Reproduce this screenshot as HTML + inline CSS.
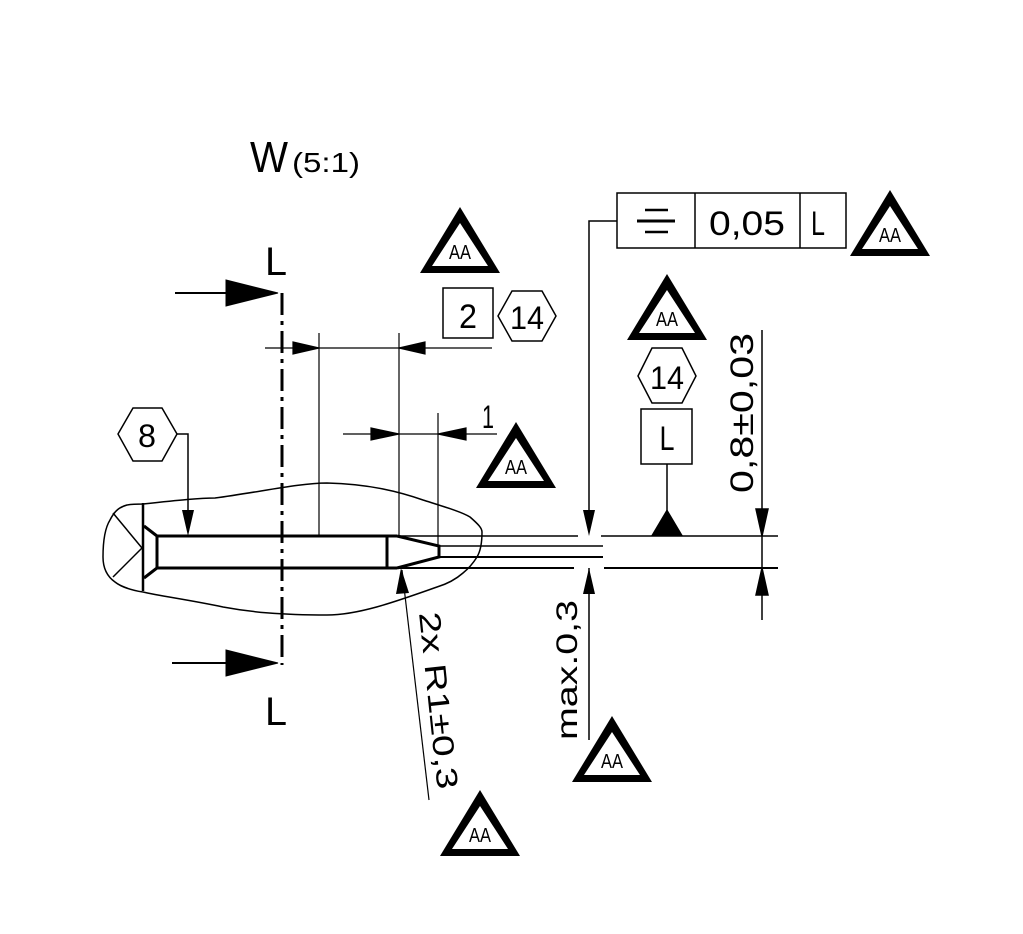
<!DOCTYPE html>
<html><head><meta charset="utf-8"><style>
html,body{margin:0;padding:0;background:#fff;}
svg{display:block}
text{font-family:"Liberation Sans",sans-serif;fill:#000}
</style></head><body>
<svg width="1023" height="934" viewBox="0 0 1023 934" xmlns="http://www.w3.org/2000/svg">
<defs>
<g id="aa-tri">
<polygon points="0,-66 -40,0 40,0" fill="#000"/>
<polygon points="0,-50 -28,-7 28,-7" fill="#fff"/>
<text x="0" y="-14" font-size="20" text-anchor="middle" textLength="22" lengthAdjust="spacingAndGlyphs">AA</text>
</g>
</defs>

<text x="250" y="172" font-size="44" textLength="38" lengthAdjust="spacingAndGlyphs">W</text>
<text x="292" y="172" font-size="28" textLength="68" lengthAdjust="spacingAndGlyphs">(5:1)</text>

<g stroke="#000">
<line x1="282" y1="293" x2="282" y2="665" stroke-width="3" stroke-dasharray="22,6,4,6"/>
<line x1="175" y1="293" x2="228" y2="293" stroke-width="2"/>
<polygon points="226,280 278,293 226,306" fill="#000"/>
<line x1="172" y1="663" x2="228" y2="663" stroke-width="2"/>
<polygon points="226,650 278,663 226,676" fill="#000"/>
</g>
<text x="265" y="275" font-size="40" textLength="22" lengthAdjust="spacingAndGlyphs">L</text>
<text x="265" y="725" font-size="40" textLength="22" lengthAdjust="spacingAndGlyphs">L</text>

<path fill="none" stroke="#000" stroke-width="1.5"
 d="M143,504 C180,500 200,498 215,498 C260,492 300,483 327,483 C370,484 400,492 423,500 C445,507 462,512 470,517 C478,524 482,528 482,532 C482,545 480,552 477,557 C472,565 468,569 463,573 C455,580 447,584 437,587 C400,600 360,615 327,615 C280,615 250,612 223,607 C190,600 160,596 143,592 C130,590 120,586 115,582 C105,575 103,565 103,557 C103,540 105,528 110,520 C115,510 120,507 127,505 C133,504 138,504 143,504 Z"/>

<g stroke="#000" fill="none">
<line x1="143" y1="503" x2="143" y2="591" stroke-width="2.5"/>
<line x1="113" y1="513" x2="142" y2="548" stroke-width="1.5"/>
<line x1="113" y1="577" x2="142" y2="548" stroke-width="1.5"/>
<polyline points="144,526 157,536 157,568 144,578" stroke-width="3"/>
<line x1="157" y1="536" x2="397" y2="536" stroke-width="3"/>
<line x1="157" y1="568" x2="397" y2="568" stroke-width="3"/>
<line x1="387" y1="536" x2="387" y2="568" stroke-width="3"/>
<polyline points="397,536 439,546 439,557 397,568" stroke-width="3"/>
<line x1="397" y1="536" x2="578" y2="536" stroke-width="1.5"/>
<line x1="397" y1="568" x2="574" y2="568" stroke-width="2"/>
<line x1="439" y1="546" x2="603" y2="546" stroke-width="1.5"/>
<line x1="439" y1="557" x2="603" y2="557" stroke-width="2"/>
<line x1="601" y1="536" x2="778" y2="536" stroke-width="1.5"/>
<line x1="604" y1="568" x2="778" y2="568" stroke-width="2"/>
</g>

<g stroke="#000" stroke-width="1.2">
<line x1="319" y1="333" x2="319" y2="536"/>
<line x1="399" y1="333" x2="399" y2="536"/>
<line x1="265" y1="348" x2="492" y2="348"/>
<polygon points="293,342 319,348 293,354" fill="#000"/>
<polygon points="425,342 399,348 425,354" fill="#000"/>
</g>
<rect x="443" y="288" width="50" height="50" fill="none" stroke="#000" stroke-width="1.5"/>
<text x="468" y="328" font-size="34" text-anchor="middle" textLength="18" lengthAdjust="spacingAndGlyphs">2</text>
<polygon points="498,316 512,291 542,291 556,316 542,341 512,341" fill="none" stroke="#000" stroke-width="1.5"/>
<text x="527" y="329" font-size="32" text-anchor="middle" textLength="34" lengthAdjust="spacingAndGlyphs">14</text>

<g stroke="#000" stroke-width="1.2">
<line x1="438" y1="413" x2="438" y2="546"/>
<line x1="343" y1="434" x2="497" y2="434"/>
<polygon points="371,428 399,434 371,440" fill="#000"/>
<polygon points="466,428 438,434 466,440" fill="#000"/>
</g>
<text x="488" y="428" font-size="32" text-anchor="middle" textLength="12" lengthAdjust="spacingAndGlyphs">1</text>

<polygon points="118,434 133,408 162,408 177,434 162,461 133,461" fill="none" stroke="#000" stroke-width="1.5"/>
<text x="147" y="447" font-size="32" text-anchor="middle" textLength="18" lengthAdjust="spacingAndGlyphs">8</text>
<polyline points="177,434 188,434 188,514" fill="none" stroke="#000" stroke-width="1.5"/>
<polygon points="182,510 188,536 194,510" fill="#000"/>

<line x1="429" y1="800" x2="402" y2="570" stroke="#000" stroke-width="1.2"/>
<polygon points="396,594 401,568 409,593" fill="#000"/>
<text transform="translate(419,613) rotate(84)" font-size="30" textLength="178" lengthAdjust="spacingAndGlyphs">2x R1±0,3</text>

<g stroke="#000" stroke-width="1.5" fill="none">
<rect x="617" y="193" width="229" height="55"/>
<line x1="695" y1="193" x2="695" y2="248"/>
<line x1="800" y1="193" x2="800" y2="248"/>
<line x1="637" y1="221" x2="675" y2="221" stroke-width="3"/>
<line x1="645" y1="210" x2="668" y2="210" stroke-width="2.5"/>
<line x1="645" y1="232" x2="668" y2="232" stroke-width="2.5"/>
</g>
<text x="747" y="235" font-size="34" text-anchor="middle" textLength="76" lengthAdjust="spacingAndGlyphs">0,05</text>
<text x="818" y="235" font-size="34" text-anchor="middle" textLength="14" lengthAdjust="spacingAndGlyphs">L</text>
<polyline points="617,221 589,221 589,520" fill="none" stroke="#000" stroke-width="1.5"/>
<polygon points="583,510 589,536 595,510" fill="#000"/>
<line x1="589" y1="568" x2="589" y2="740" stroke="#000" stroke-width="1.5"/>
<polygon points="583,594 589,568 595,594" fill="#000"/>
<text transform="translate(577,740) rotate(-90)" font-size="30" textLength="140" lengthAdjust="spacingAndGlyphs">max.0,3</text>

<polygon points="638,376 652,348 682,348 696,376 682,403 652,403" fill="none" stroke="#000" stroke-width="1.5"/>
<text x="667" y="389" font-size="32" text-anchor="middle" textLength="34" lengthAdjust="spacingAndGlyphs">14</text>
<rect x="641" y="409" width="51" height="55" fill="none" stroke="#000" stroke-width="1.5"/>
<text x="667" y="450" font-size="34" text-anchor="middle" textLength="15" lengthAdjust="spacingAndGlyphs">L</text>
<line x1="667" y1="464" x2="667" y2="512" stroke="#000" stroke-width="1.5"/>
<polygon points="651,536 667,509 683,536" fill="#000"/>

<g stroke="#000" stroke-width="1.5">
<line x1="762" y1="330" x2="762" y2="620"/>
<polygon points="756,509 762,536 768,509" fill="#000"/>
<polygon points="756,595 762,568 768,595" fill="#000"/>
</g>
<text transform="translate(753,493) rotate(-90)" font-size="32" textLength="160" lengthAdjust="spacingAndGlyphs">0,8±0,03</text>

<use href="#aa-tri" x="460" y="273"/>
<use href="#aa-tri" x="516" y="488"/>
<use href="#aa-tri" x="890" y="256"/>
<use href="#aa-tri" x="667" y="340"/>
<use href="#aa-tri" x="612" y="782"/>
<use href="#aa-tri" x="480" y="856"/>
</svg>
</body></html>
